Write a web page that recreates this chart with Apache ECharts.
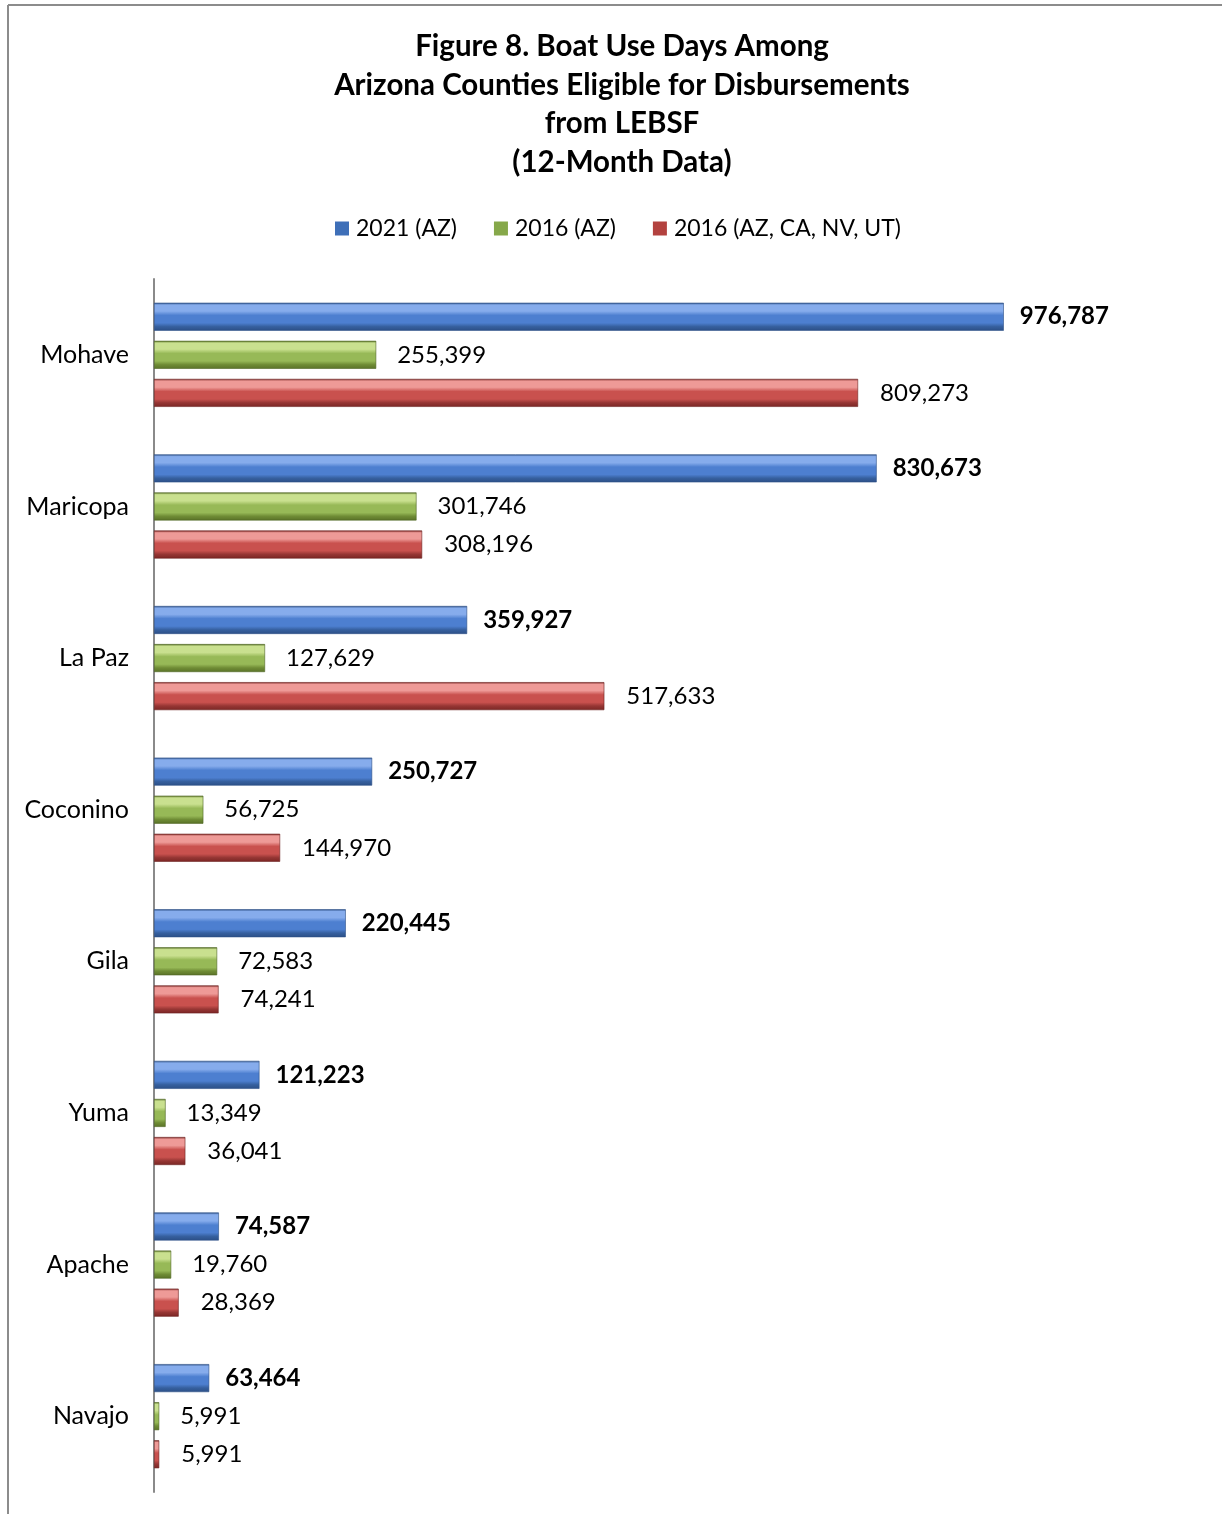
<!DOCTYPE html>
<html>
<head>
<meta charset="utf-8">
<script src="https://cdn.jsdelivr.net/npm/echarts@6/dist/echarts.min.js"></script>
<style>
  html, body { margin: 0; padding: 0; background: #ffffff; }
  #chart { width: 1222px; height: 1514px; }
</style>
</head>
<body>
<div id="chart"></div>
<script>
// County names, top to bottom
const counties = ['Mohave', 'Maricopa', 'La Paz', 'Coconino', 'Gila', 'Yuma', 'Apache', 'Navajo'];

// Boat use days per county
const az2021 = [976787, 830673, 359927, 250727, 220445, 121223, 74587, 63464];
const az2016 = [255399, 301746, 127629, 56725, 72583, 13349, 19760, 5991];
const region2016 = [809273, 308196, 517633, 144970, 74241, 36041, 28369, 5991];

const seriesNames = ['2021 (AZ)', '2016 (AZ)', '2016 (AZ, CA, NV, UT)'];

const FONT = 'Lato, "Open Sans", sans-serif';

// Vertical gradient giving each bar a bevelled, rounded look
function bevel(edge, light, base, dark) {
  return new echarts.graphic.LinearGradient(0, 0, 0, 1, [
    { offset: 0, color: edge },
    { offset: 0.08, color: light },
    { offset: 0.3, color: light },
    { offset: 0.45, color: base },
    { offset: 0.72, color: base },
    { offset: 0.85, color: dark },
    { offset: 1, color: edge }
  ]);
}

const fills = [
  bevel('#2c4f86', '#86acec', '#4d7fd0', '#36609f'),
  bevel('#5a7228', '#c9e08f', '#97b957', '#6f8c35'),
  bevel('#7a2624', '#ee9a97', '#c9514e', '#963634')
];
const legendColors = ['#3e6fb8', '#86a84a', '#b3423f'];
const edges = ['#2c4f86', '#4d6422', '#6d2220'];

const fmt = v => v.toLocaleString('en-US');

function makeSeries(idx, data, bold, dist) {
  return {
    name: seriesNames[idx],
    type: 'bar',
    data: data,
    barWidth: 28,
    barGap: '36%',
    itemStyle: { color: fills[idx], borderColor: edges[idx], borderWidth: 0.6 },
    label: {
      show: true,
      position: 'right',
      distance: dist,
      formatter: p => fmt(p.value),
      fontFamily: FONT,
      fontSize: 24,
      fontWeight: bold ? 'bold' : 'normal',
      color: '#000000'
    },
    emphasis: { disabled: true }
  };
}

const chart = echarts.init(document.getElementById('chart'), null, { renderer: 'canvas' });

chart.setOption({
  backgroundColor: '#ffffff',
  animation: false,
  title: {
    text: 'Figure 8. Boat Use Days Among\nArizona Counties Eligible for Disbursements\nfrom LEBSF\n(12-Month Data)',
    left: 617,
    textAlign: 'center',
    top: 22,
    textStyle: {
      fontFamily: FONT,
      fontSize: 29.5,
      fontWeight: 'bold',
      lineHeight: 38.7,
      color: '#000000'
    }
  },
  legend: {
    top: 212,
    left: 330,
    itemWidth: 14,
    itemHeight: 14,
    itemGap: 37,
    icon: 'rect',
    data: seriesNames.map((n, i) => ({ name: n, itemStyle: { color: legendColors[i], borderWidth: 0 } })),
    textStyle: { fontFamily: FONT, fontSize: 23, color: '#000000', padding: [0, 0, 0, 2] },
    selectedMode: false
  },
  grid: { left: 154, top: 279, height: 1213, right: 24, containLabel: false },
  xAxis: {
    type: 'value',
    min: 0,
    max: 1200000,
    show: false
  },
  yAxis: {
    type: 'category',
    data: counties,
    inverse: true,
    axisLine: { show: true, lineStyle: { color: '#8a8a8a', width: 2 } },
    axisTick: { show: false },
    axisLabel: { fontFamily: FONT, fontSize: 25, color: '#000000', margin: 25 }
  },
  graphic: [
    { type: 'line', shape: { x1: 8, y1: 5, x2: 1222, y2: 5 }, style: { stroke: '#8c8c8c', lineWidth: 2 } },
    { type: 'line', shape: { x1: 8, y1: 5, x2: 8, y2: 1514 }, style: { stroke: '#8c8c8c', lineWidth: 2 } }
  ],
  series: [
    makeSeries(0, az2021, true, 16),
    makeSeries(1, az2016, false, 21),
    makeSeries(2, region2016, false, 22)
  ]
});
</script>
</body>
</html>
